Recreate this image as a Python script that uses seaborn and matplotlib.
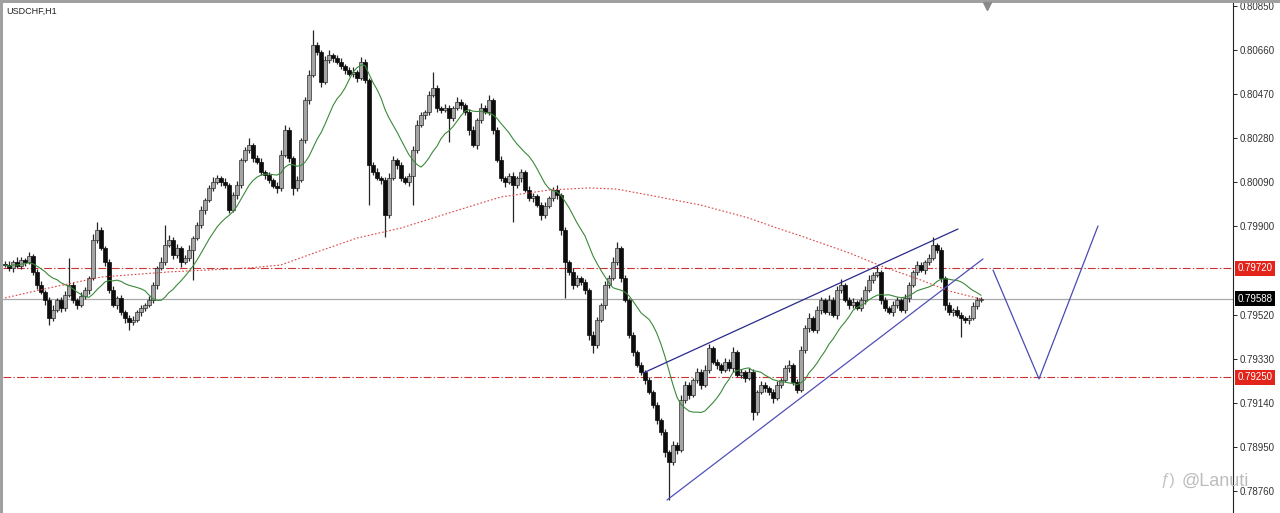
import numpy as np
import pandas as pd
import seaborn as sns
import matplotlib.pyplot as plt
import matplotlib.patches as mpatches
import matplotlib.transforms as mtransforms
from matplotlib.lines import Line2D

# USDCHF H1 closes, in 1e-5 (pipettes)
close_pts = [
    79734, 79721, 79747, 79730, 79755, 79747, 79773, 79704, 79648, 79617,
    79583, 79505, 79540, 79583, 79548, 79604, 79648, 79583, 79561, 79600,
    79626, 79678, 79842, 79885, 79807, 79747, 79626, 79561, 79592, 79531,
    79505, 79488, 79497, 79531, 79548, 79561, 79583, 79648, 79721, 79747,
    79820, 79842, 79777, 79807, 79747, 79764, 79798, 79850, 79906, 79971,
    80014, 80066, 80092, 80109, 80092, 80079, 79971, 80035, 80079, 80186,
    80229, 80251, 80195, 80178, 80135, 80122, 80100, 80074, 80066, 80208,
    80316, 80195, 80066, 80100, 80273, 80445, 80553, 80682, 80652, 80523,
    80617, 80639, 80626, 80609, 80592, 80574, 80557, 80566, 80540, 80609,
    80531, 80165, 80135, 80109, 80100, 79949, 80109, 80186, 80165, 80109,
    80092, 80117, 80229, 80337, 80380, 80393, 80467, 80497, 80410, 80402,
    80410, 80367, 80410, 80436, 80423, 80393, 80316, 80251, 80359, 80410,
    80393, 80445, 80316, 80186, 80109, 80092, 80117, 80079, 80109, 80135,
    80057, 80023, 80031, 79992, 79949, 79988, 80023, 80057, 80035, 79885,
    79747, 79704, 79648, 79678, 79661, 79626, 79432, 79389, 79497, 79561,
    79648, 79678, 79747, 79807, 79678, 79583, 79432, 79359, 79303, 79273,
    79238, 79187, 79130, 79066, 79014, 78928, 78885, 78958, 78937, 79152,
    79217, 79174, 79238, 79273, 79217, 79281, 79376, 79316, 79303, 79281,
    79316, 79290, 79359, 79260, 79273, 79247, 79273, 79100, 79187, 79217,
    79204, 79187, 79161, 79217, 79238, 79290, 79303, 79230, 79195, 79368,
    79462, 79505, 79454, 79540, 79583, 79531, 79583, 79518, 79626, 79648,
    79583, 79561, 79574, 79548, 79583, 79626, 79669, 79691, 79704, 79583,
    79548, 79531, 79561, 79583, 79540, 79592, 79648, 79704, 79734, 79712,
    79747, 79764, 79820, 79798, 79678, 79561, 79531, 79540, 79518, 79505,
    79497, 79505, 79557, 79583, 79588,
]
first_open = 79740

wick_up = [
    13, 17, 9, 22, 13, 9, 17, 9, 13, 17, 9, 13, 22, 9, 13, 17, 116, 13, 9, 17,
    13, 9, 26, 34, 13, 9, 13, 17, 9, 13, 9, 13, 17, 9, 13, 9, 17, 13, 9, 22,
    86, 22, 13, 17, 9, 13, 22, 9, 13, 17, 9, 13, 22, 13, 9, 17, 9, 13, 17, 9,
    13, 30, 9, 13, 17, 9, 13, 9, 17, 22, 21, 13, 9, 17, 9, 13, 22, 65, 13, 9,
    17, 22, 9, 13, 17, 9, 13, 22, 9, 21, 13, 9, 13, 17, 9, 13, 22, 17, 9, 13,
    9, 13, 17, 22, 13, 9, 17, 69, 13, 9, 17, 13, 9, 22, 13, 9, 13, 17, 9, 22,
    13, 22, 9, 13, 17, 9, 13, 17, 9, 13, 9, 17, 13, 9, 13, 17, 9, 13, 22, 9,
    13, 9, 17, 13, 9, 13, 9, 17, 13, 9, 17, 13, 22, 26, 9, 13, 9, 13, 9, 13,
    9, 13, 9, 13, 9, 13, 9, 17, 13, 22, 17, 13, 9, 17, 13, 22, 17, 9, 13, 9,
    17, 13, 22, 9, 13, 9, 17, 13, 9, 17, 13, 9, 13, 17, 9, 13, 22, 9, 13, 17,
    13, 22, 9, 17, 13, 9, 22, 13, 17, 26, 9, 13, 17, 9, 13, 17, 22, 13, 26, 9,
    13, 9, 17, 13, 9, 17, 13, 9, 17, 13, 9, 17, 35, 9, 13, 9, 13, 9, 17, 13,
    9, 13, 17, 13, 9,
]
wick_dn = [
    9, 13, 17, 9, 13, 17, 9, 13, 17, 9, 22, 30, 13, 9, 17, 13, 9, 13, 17, 9,
    13, 17, 9, 13, 9, 17, 13, 9, 17, 13, 22, 34, 13, 9, 17, 13, 9, 13, 17, 9,
    13, 9, 17, 13, 22, 9, 13, 129, 9, 13, 17, 9, 13, 9, 17, 13, 13, 9, 17, 13,
    9, 13, 17, 9, 13, 17, 13, 9, 22, 13, 9, 17, 30, 13, 9, 13, 17, 9, 13, 22,
    9, 13, 17, 9, 13, 17, 9, 13, 17, 9, 13, 173, 13, 9, 17, 94, 13, 9, 17, 13,
    9, 17, 125, 13, 9, 17, 13, 9, 17, 13, 9, 103, 13, 9, 17, 13, 22, 9, 17, 13,
    9, 13, 17, 9, 13, 22, 9, 160, 13, 17, 9, 13, 17, 9, 22, 13, 9, 13, 17, 22,
    156, 13, 17, 9, 13, 17, 22, 34, 13, 9, 17, 13, 9, 13, 17, 9, 13, 17, 9, 13,
    17, 9, 13, 17, 13, 22, 164, 13, 17, 9, 13, 17, 9, 13, 17, 9, 13, 9, 17, 13,
    9, 13, 17, 9, 13, 17, 9, 34, 13, 9, 17, 13, 22, 9, 13, 9, 17, 13, 13, 9,
    13, 17, 9, 13, 17, 9, 13, 9, 17, 13, 9, 17, 13, 9, 13, 17, 9, 13, 9, 17,
    13, 9, 17, 13, 9, 13, 17, 9, 13, 9, 17, 13, 9, 13, 17, 22, 13, 17, 9, 81,
    13, 17, 9, 13, 9,
]

# slow moving average (red dotted), read at a few bars
slow_ma_idx = [0, 11, 24, 41, 61, 69, 78, 88, 99, 111, 119, 124, 136, 146,
               153, 161, 174, 186, 193, 199, 211, 219, 229, 236, 244]
slow_ma_pts = [79592, 79635, 79682, 79704, 79721, 79734, 79790, 79850, 79893,
               79958, 80001, 80027, 80057, 80066, 80061, 80035, 79992, 79936,
               79893, 79859, 79786, 79730, 79669, 79622, 79587]

# drawn objects: (bar, price)
upper_line = [(159.5, 0.79268), (238.25, 0.79889)]
lower_line = [(165.5, 0.78721), (244.5, 0.79760)]
projection = [(247, 0.79712), (258.5, 0.79243), (273.25, 0.79902)]

levels = [0.79720, 0.79250]
last_price = 0.79588
ytick_vals = [0.80850, 0.80660, 0.80470, 0.80280, 0.80090, 0.79900,
              0.79520, 0.79330, 0.79140, 0.78950, 0.78760]

closes = np.array(close_pts) / 1e5
opens = np.r_[first_open, close_pts[:-1]] / 1e5
highs = np.maximum(opens, closes) + np.array(wick_up) / 1e5
lows = np.minimum(opens, closes) - np.array(wick_dn) / 1e5
idx = np.arange(len(closes))

sns.set_style("white")
plt.rcParams['font.family'] = ['Liberation Sans', 'DejaVu Sans']

W, H = 1280, 513
fig = plt.figure(figsize=(W / 100, H / 100), dpi=100)
ax = fig.add_axes([3 / W, 0, 1230 / W, 510 / H])

# candles
ax.vlines(idx, lows, highs, color='#262626', lw=0.9, zorder=2)
body = closes - opens
height = np.where(np.abs(body) < 2e-5, np.where(body >= 0, 2e-5, -2e-5), body)
bull = body >= 0
ax.bar(idx[bull], height[bull], bottom=opens[bull], width=0.78,
       color='#a4a4a4', edgecolor='#2e2e2e', linewidth=0.5, zorder=3)
ax.bar(idx[~bull], height[~bull], bottom=opens[~bull], width=0.78,
       color='#0d0d0d', edgecolor='#0d0d0d', linewidth=0.5, zorder=3)

# fast MA (green) from the closes, slow MA (red dotted)
fast_ma = pd.Series(closes).rolling(14, min_periods=1).mean()
sns.lineplot(x=idx, y=fast_ma.values, color='#3a8a3a', lw=0.8, ax=ax, zorder=4)
sns.lineplot(x=slow_ma_idx, y=np.array(slow_ma_pts) / 1e5, color='#dd4444',
             lw=0.8, ax=ax, zorder=4).lines[-1].set_dashes([1.5, 1.8])

# horizontal levels
for lv in levels:
    ax.axhline(lv, color='#cc3030', lw=0.8, dashes=[7, 2, 1.2, 2], zorder=1)
ax.axhline(last_price, color='#a8a8a8', lw=0.9, zorder=1)

# trend lines and projection
for pts, col in [(upper_line, '#2a2a8c'), (lower_line, '#5050b8'),
                 (projection, '#4a4ab0')]:
    xs, ys = zip(*pts)
    ax.plot(xs, ys, color=col, lw=0.9, zorder=5)

ax.set_xlim(-0.5, 307)
ax.set_ylim(0.78665, 0.80863)
ax.set_xticks([])
ax.set_xlabel('')
ax.set_ylabel('')
ax.yaxis.tick_right()
ax.set_yticks(ytick_vals)
ax.set_yticklabels([f'{v:.5f}' for v in ytick_vals])
ax.tick_params(axis='y', direction='out', length=3, width=0.7, pad=2,
               labelsize=7, labelcolor='#333333', color='#222222')
for s in ['left', 'top', 'bottom']:
    ax.spines[s].set_visible(False)
ax.spines['right'].set_color('#222222')
ax.spines['right'].set_linewidth(0.8)

# price boxes on the scale
trans = mtransforms.blended_transform_factory(ax.transAxes, ax.transData)
for val, bg in [(levels[0], '#e3241b'), (levels[1], '#e3241b'), (last_price, '#000000')]:
    ax.text(1.0035, val, f'{val:.5f}', transform=trans, color='white', fontsize=7,
            va='center', ha='left', zorder=6,
            bbox=dict(boxstyle='square,pad=0.25', fc=bg, ec='none'))

# window frame, symbol label, shift marker, watermark
fig.add_artist(mpatches.Rectangle((0, 1 - 3 / H), 1, 3 / H, transform=fig.transFigure,
                                  color='#a0a0a0', lw=0))
fig.add_artist(mpatches.Rectangle((0, 0), 3 / W, 1, transform=fig.transFigure,
                                  color='#a0a0a0', lw=0))
fig.text(6 / W, 1 - 11 / H, 'USDCHF,H1', fontsize=6.5, color='#222222', va='center')
fig.add_artist(Line2D([987 / W], [1 - 6 / H], marker='v', ms=6, color='#8a8a8a',
                      transform=fig.transFigure))
fig.text(1160 / W, 1 - 481 / H, 'ƒ)', fontsize=12, color='#c4c4c4', va='center')
fig.text(1182 / W, 1 - 481 / H, '@Lanuti', fontsize=13, color='#bdbdbd',
         va='center', fontweight='light')

fig.savefig('out.png', dpi=100)
